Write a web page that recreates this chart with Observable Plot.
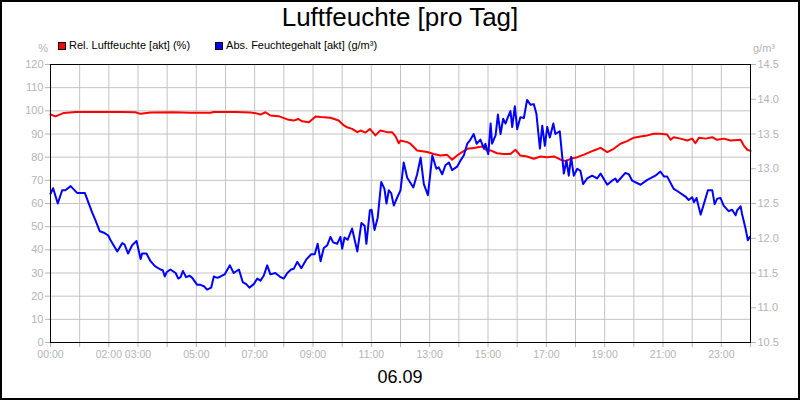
<!DOCTYPE html>
<html>
<head>
<meta charset="utf-8">
<script src="https://cdn.jsdelivr.net/npm/d3@7"></script>
<script src="https://cdn.jsdelivr.net/npm/@observablehq/plot@0.6"></script>
<style>
  html, body { margin: 0; padding: 0; background: #fff; }
  #wrap { position: relative; width: 800px; height: 400px; overflow: hidden; font-family: "Liberation Sans", Arial, sans-serif; }
  #wrap svg { position: absolute; left: 0; top: 0; }
  .abs { position: absolute; white-space: nowrap; line-height: 1; }
  #title { top: 4px; left: 0; width: 800px; text-align: center; font-size: 26px; color: #000; }
  #date { top: 368px; left: 0; width: 800px; text-align: center; font-size: 18px; color: #000; }
  .unit { top: 43px; font-size: 11px; color: #b4b4b4; }
  #legend { top: 40px; left: 58px; font-size: 11px; color: #000; display: flex; align-items: center; }
  .sw { display: inline-block; width: 6px; height: 6px; border: 1px solid #000; margin-right: 3px; }
  .item { display: flex; align-items: center; margin-right: 25px; }
  #border { position: absolute; left: 0; top: 0; width: 800px; height: 400px; box-sizing: border-box; border: 2px solid #000; pointer-events: none; }
</style>
</head>
<body>
<div id="wrap"></div>
<script>
// ---- data ----
const titleText = "Luftfeuchte [pro Tag]";
const dateText = "06.09";
const seriesNames = ["Rel. Luftfeuchte [akt] (%)", "Abs. Feuchtegehalt [akt] (g/m³)"];
const seriesColors = ["#ff0000", "#0000ff"];
const leftUnit = "%";
const rightUnit = "g/m³";

const leftTicks = [0, 10, 20, 30, 40, 50, 60, 70, 80, 90, 100, 110, 120];
const rightTicks = [10.5, 11.0, 11.5, 12.0, 12.5, 13.0, 13.5, 14.0, 14.5];
const hourTicks = [0,1,2,3,4,5,6,7,8,9,10,11,12,13,14,15,16,17,18,19,20,21,22,23,24];
const xTickLabels = ["00:00","02:00","03:00","05:00","07:00","09:00","11:00","13:00","15:00","17:00","19:00","21:00","23:00"];

// relative humidity (%), time in hours
const relHours = [0.00,0.17,0.46,0.86,1.71,2.40,2.91,3.09,3.43,4.22,4.80,5.49,5.59,6.34,6.86,7.03,7.20,7.37,7.54,7.82,8.12,8.34,8.49,8.63,8.86,9.09,9.26,9.60,9.88,10.06,10.17,10.34,10.52,10.63,10.80,10.95,11.14,11.31,11.54,11.71,11.83,11.94,12.00,12.23,12.34,12.57,12.92,13.14,13.37,13.60,13.77,13.94,14.11,14.29,14.51,14.80,14.95,15.09,15.31,15.54,15.77,15.94,16.11,16.34,16.57,16.80,17.03,17.26,17.49,17.66,17.83,18.06,18.29,18.63,18.86,19.09,19.31,19.54,19.77,20.00,20.23,20.46,20.69,20.91,21.14,21.26,21.37,21.60,21.83,22.00,22.11,22.23,22.46,22.69,22.86,23.09,23.31,23.66,23.77,23.89,24.00];
const relValues = [98.4,97.6,99.1,99.5,99.5,99.5,99.4,98.7,99.3,99.4,99.2,99.2,99.5,99.5,99.3,99.0,98.4,99.4,98.0,97.7,96.3,95.8,96.5,95.5,95.1,97.6,97.3,97.0,95.8,93.7,92.9,92.2,90.8,91.5,90.6,92.2,89.4,91.5,90.8,90.8,89.0,86.0,87.2,86.5,85.8,82.9,82.2,81.4,80.7,81.0,78.9,80.7,82.2,83.6,84.0,84.6,83.0,82.9,81.7,81.4,81.4,83.2,80.7,80.3,79.3,80.3,80.0,80.3,78.9,78.3,79.3,80.0,81.1,82.9,84.0,82.2,83.6,85.8,86.9,88.4,88.9,89.4,90.1,90.1,89.8,87.5,88.6,88.0,87.2,88.0,86.0,88.4,88.0,88.6,87.5,88.0,87.2,87.5,85.0,83.2,82.7];

// absolute humidity (g/m³), time in hours
const absHours = [
0.00,0.09,0.25,0.40,0.51,0.69,0.92,1.18,1.43,1.54,
1.69,1.83,1.98,2.06,2.29,2.46,2.54,2.66,2.80,2.95,
3.09,3.14,3.29,3.43,3.58,3.77,3.85,3.92,3.98,4.11,
4.29,4.38,4.46,4.54,4.65,4.77,4.86,5.03,5.14,5.26,
5.37,5.51,5.60,5.72,5.83,5.97,6.15,6.28,6.46,6.59,
6.71,6.82,6.97,7.09,7.20,7.31,7.43,7.54,7.71,7.89,
8.00,8.12,8.25,8.34,8.46,8.60,8.78,8.94,9.06,9.16,
9.26,9.37,9.49,9.60,9.69,9.83,9.94,10.00,10.08,10.19,
10.34,10.52,10.66,10.77,10.83,10.95,11.01,11.11,11.22,11.34,
11.45,11.52,11.60,11.68,11.77,11.89,12.00,12.11,12.23,12.44,
12.57,12.69,12.80,12.94,13.09,13.23,13.31,13.43,13.54,13.66,
13.77,13.94,14.06,14.17,14.29,14.40,14.51,14.61,14.74,14.86,
14.91,15.01,15.09,15.14,15.26,15.34,15.43,15.52,15.60,15.68,
15.77,15.83,15.92,16.00,16.11,16.23,16.34,16.46,16.57,16.66,
16.78,16.86,16.95,17.03,17.12,17.24,17.31,17.46,17.60,17.69,
17.77,17.85,17.94,18.06,18.17,18.26,18.40,18.57,18.74,18.86,
19.09,19.26,19.37,19.43,19.54,19.71,19.83,19.94,20.23,20.46,
20.74,20.91,21.03,21.14,21.37,21.49,21.77,21.88,22.00,22.06,
22.15,22.29,22.42,22.54,22.69,22.77,22.86,22.97,23.08,23.25,
23.37,23.49,23.54,23.66,23.71,23.83,23.91,23.98];
const absValues = [
12.64,12.72,12.50,12.69,12.69,12.75,12.65,12.65,12.37,12.26,
12.10,12.08,12.04,11.97,11.81,11.93,11.91,11.78,11.90,11.96,
11.70,11.78,11.78,11.67,11.60,11.55,11.54,11.45,11.51,11.55,
11.50,11.42,11.44,11.53,11.44,11.46,11.43,11.33,11.33,11.31,
11.26,11.29,11.45,11.43,11.45,11.48,11.61,11.50,11.55,11.37,
11.34,11.29,11.34,11.42,11.39,11.46,11.61,11.48,11.50,11.44,
11.42,11.50,11.55,11.56,11.66,11.57,11.70,11.77,11.77,11.92,
11.67,11.86,11.90,12.02,11.94,11.92,12.02,11.85,12.01,11.98,
12.14,11.81,12.22,12.18,11.92,12.40,12.41,12.12,12.30,12.81,
12.71,12.50,12.69,12.65,12.47,12.59,12.69,13.09,12.87,12.73,
12.92,13.16,12.78,12.62,13.19,13.00,13.02,12.92,13.05,13.09,
12.98,13.03,13.12,13.19,13.36,13.42,13.50,13.36,13.42,13.29,
13.36,13.21,13.65,13.36,13.48,13.78,13.50,13.72,13.65,13.74,
13.83,13.60,13.90,13.57,13.74,13.73,13.99,13.92,13.93,13.79,
13.29,13.62,13.33,13.60,13.45,13.65,13.50,13.54,12.93,13.12,
12.90,13.17,12.90,13.00,12.97,12.78,12.86,12.90,12.86,12.93,
12.77,12.83,12.86,12.81,12.86,12.94,12.92,12.83,12.77,12.84,
12.90,12.96,12.89,12.89,12.71,12.68,12.60,12.55,12.59,12.52,
12.58,12.34,12.52,12.69,12.69,12.49,12.57,12.58,12.47,12.39,
12.41,12.33,12.40,12.46,12.35,12.14,11.97,12.02];

// ---- build ----
const rel = relHours.map((h, i) => ({h, v: relValues[i]}));
const abs = absHours.map((h, i) => ({h, v: absValues[i]}));

// right axis (g/m³) mapped onto the left (%) scale
const leftDomain = [leftTicks[0], leftTicks[leftTicks.length - 1]];
const rightDomain = [rightTicks[0], rightTicks[rightTicks.length - 1]];
const toLeft = d3.scaleLinear(rightDomain, leftDomain);

const labelByHour = new Map(xTickLabels.map(s => [+s.slice(0, 2), s]));
const gray = "#b4b4b4";
const gridColor = "#c3c3c3";

const chart = Plot.plot({
  width: 800,
  height: 400,
  marginTop: 64,
  marginBottom: 58,
  marginLeft: 50,
  marginRight: 50,
  style: {fontFamily: "'Liberation Sans', Arial, sans-serif", fontSize: "11px", background: "transparent", overflow: "visible"},
  x: {domain: [hourTicks[0], hourTicks[hourTicks.length - 1]]},
  y: {domain: leftDomain},
  marks: [
    Plot.gridY(leftTicks.slice(1, -1), {stroke: gridColor, strokeOpacity: 1}),
    Plot.gridX(hourTicks.slice(1, -1), {stroke: gridColor, strokeOpacity: 1}),
    Plot.axisY(leftTicks, {anchor: "left", tickSize: 5, tickPadding: 2, stroke: gray, fill: gray, label: null, fontSize: 11}),
    Plot.axisY(rightTicks.map(toLeft), {anchor: "right", tickSize: 5, tickPadding: 2, stroke: gray, fill: gray, label: null, fontSize: 11,
      tickFormat: d => d3.format(".1f")(toLeft.invert(d))}),
    Plot.axisX(hourTicks, {anchor: "bottom", tickSize: 5, tickPadding: 3, stroke: gray, fill: gray, label: null, fontSize: 10.5,
      tickFormat: h => labelByHour.get(h) ?? ""}),
    Plot.line(rel, {x: "h", y: "v", stroke: seriesColors[0], strokeWidth: 2}),
    Plot.line(abs, {x: "h", y: d => toLeft(d.v), stroke: seriesColors[1], strokeWidth: 2}),
    Plot.frame({stroke: "#000", strokeWidth: 1})
  ]
});

const wrap = document.getElementById("wrap");
wrap.appendChild(chart);

function addDiv(id, cls, html, styleObj) {
  const el = document.createElement("div");
  if (id) el.id = id;
  el.className = "abs " + (cls || "");
  el.innerHTML = html;
  Object.assign(el.style, styleObj || {});
  wrap.appendChild(el);
  return el;
}
addDiv("title", "", titleText);
addDiv("date", "", dateText);
const lu = addDiv(null, "unit", leftUnit, {});
lu.style.right = (800 - 48) + "px";
addDiv(null, "unit", rightUnit, {left: "753px"});

const legend = addDiv("legend", "", "");
seriesNames.forEach((name, i) => {
  const item = document.createElement("span");
  item.className = "item";
  const sw = document.createElement("span");
  sw.className = "sw";
  sw.style.background = seriesColors[i];
  item.appendChild(sw);
  item.appendChild(document.createTextNode(name));
  legend.appendChild(item);
});

const border = document.createElement("div");
border.id = "border";
wrap.appendChild(border);
</script>
</body>
</html>
